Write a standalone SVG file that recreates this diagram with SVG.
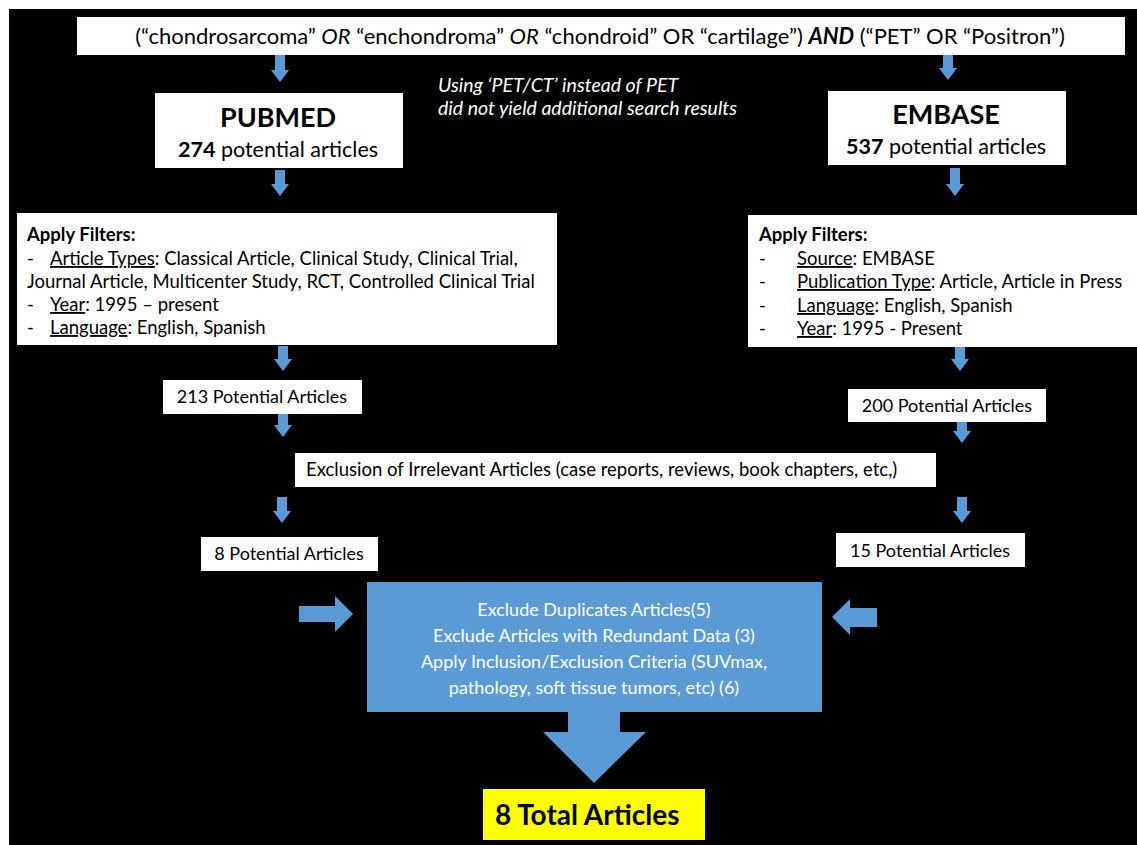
<svg xmlns="http://www.w3.org/2000/svg" width="1137" height="845" viewBox="0 0 1137 845">
<style>
text{font-family:Lato,"Open Sans","Liberation Sans",sans-serif;fill:#000}
.box{fill:#fff}
.arr{fill:#5B9BD5}
.t22{font-size:21.5px}
.t18{font-size:18px}
.f{font-size:18.5px}
.b{font-weight:bold}
.i{font-style:italic}
.u{text-decoration:underline}
.w{fill:#fff}
</style>
<rect x="0" y="0" width="1137" height="845" fill="#fff"/>
<rect x="9" y="9" width="1128" height="836" fill="#000"/>
<g id="connectors">
<path class="arr" d="M275,55H285V70H289L280,82L271,70H275Z"/>
<path class="arr" d="M943,55H953V68H957L948,80L939,68H943Z"/>
<path class="arr" d="M275,170H285V184H289L280,196L271,184H275Z"/>
<path class="arr" d="M950,168H960V184H964L955,196L946,184H950Z"/>
<path class="arr" d="M278,346H288V359H292L283,371L274,359H278Z"/>
<path class="arr" d="M955,346H965V359H969L960,371L951,359H955Z"/>
<path class="arr" d="M278,414H288V425H292L283,437L274,425H278Z"/>
<path class="arr" d="M957,422H967V431H971L962,443L953,431H957Z"/>
<path class="arr" d="M277,497H287V511H291L282,523L273,511H277Z"/>
<path class="arr" d="M957,497H967V511H971L962,523L953,511H957Z"/>
<path class="arr" d="M299,606H335V596L353,614L335,632V622H299Z"/>
<path class="arr" d="M877,608H850V599L832,617L850,635V627H877Z"/>
<path class="arr" d="M568,712H620V732H646L594,783L543,732H568Z"/>
</g>
<g id="query">
<rect class="box" x="77" y="17" width="1048" height="38"/>
<text x="600" y="44" text-anchor="middle" font-size="22">(“chondrosarcoma” <tspan class="i">OR</tspan> “enchondroma” <tspan class="i">OR</tspan> “chondroid” OR “cartilage”) <tspan class="b i">AND</tspan> (“PET” OR “Positron”)</text>
</g>
<g id="note">
<text class="i w" font-size="19.5" x="438" y="92">Using ‘PET/CT’ instead of PET</text>
<text class="i w" font-size="19.5" x="438" y="115">did not yield additional search results</text>
</g>
<g id="pubmed">
<rect class="box" x="155" y="93" width="248" height="75"/>
<text x="278" y="127" text-anchor="middle" class="b" font-size="27">PUBMED</text>
<text x="278" y="157" text-anchor="middle" class="t22"><tspan class="b">274</tspan> potential articles</text>
</g>
<g id="embase">
<rect class="box" x="828" y="91" width="238" height="74"/>
<text x="946" y="124" text-anchor="middle" class="b" font-size="27">EMBASE</text>
<text x="946" y="154" text-anchor="middle" class="t22"><tspan class="b">537</tspan> potential articles</text>
</g>
<g id="pubmed-filters">
<rect class="box" x="17" y="213" width="540" height="132"/>
<text class="f" x="27" y="241"><tspan class="b">Apply Filters:</tspan></text>
<text class="f" x="27" y="265">-<tspan x="50" class="u">Article Types</tspan>: Classical Article, Clinical Study, Clinical Trial,</text>
<text class="f" x="27" y="288">Journal Article, Multicenter Study, RCT, Controlled Clinical Trial</text>
<text class="f" x="27" y="311">-<tspan x="50" class="u">Year</tspan>: 1995 – present</text>
<text class="f" x="27" y="334">-<tspan x="50" class="u">Language</tspan>: English, Spanish</text>
</g>
<g id="embase-filters">
<rect class="box" x="748" y="215" width="389" height="132"/>
<text class="f" x="759" y="241"><tspan class="b">Apply Filters:</tspan></text>
<text class="f" x="759" y="265">-<tspan x="797" class="u">Source</tspan>: EMBASE</text>
<text class="f" x="759" y="288">-<tspan x="797" class="u">Publication Type</tspan>: Article, Article in Press</text>
<text class="f" x="759" y="312">-<tspan x="797" class="u">Language</tspan>: English, Spanish</text>
<text class="f" x="759" y="335">-<tspan x="797" class="u">Year</tspan>: 1995 - Present</text>
</g>
<g id="pubmed-213">
<rect class="box" x="163" y="380" width="199" height="34"/>
<text class="t18" x="262" y="403" text-anchor="middle">213 Potential Articles</text>
</g>
<g id="embase-200">
<rect class="box" x="848" y="389" width="198" height="33"/>
<text class="t18" x="947" y="412" text-anchor="middle">200 Potential Articles</text>
</g>
<g id="exclusion">
<rect class="box" x="295" y="453" width="641" height="34"/>
<text class="f" x="306" y="476">Exclusion of Irrelevant Articles (case reports, reviews, book chapters, etc,)</text>
</g>
<g id="pubmed-8">
<rect class="box" x="201" y="537" width="177" height="34"/>
<text class="t18" x="289" y="560" text-anchor="middle">8 Potential Articles</text>
</g>
<g id="embase-15">
<rect class="box" x="836" y="533" width="189" height="34"/>
<text class="t18" x="930" y="557" text-anchor="middle">15 Potential Articles</text>
</g>
<g id="screening">
<rect x="367" y="582" width="455" height="130" fill="#5B9BD5"/>
<text class="t18 w" x="594" y="616" text-anchor="middle">Exclude Duplicates Articles(5)</text>
<text class="t18 w" x="594" y="642" text-anchor="middle">Exclude Articles  with Redundant Data (3)</text>
<text class="t18 w" x="594" y="668" text-anchor="middle">Apply Inclusion/Exclusion Criteria (SUVmax,</text>
<text class="t18 w" x="594" y="694" text-anchor="middle">pathology, soft tissue tumors, etc) (6)</text>
</g>
<g id="total">
<rect x="483" y="789" width="222" height="51" fill="#ffff00"/>
<text x="495" y="825" class="b" font-size="28">8 Total Articles</text>
</g>
</svg>
